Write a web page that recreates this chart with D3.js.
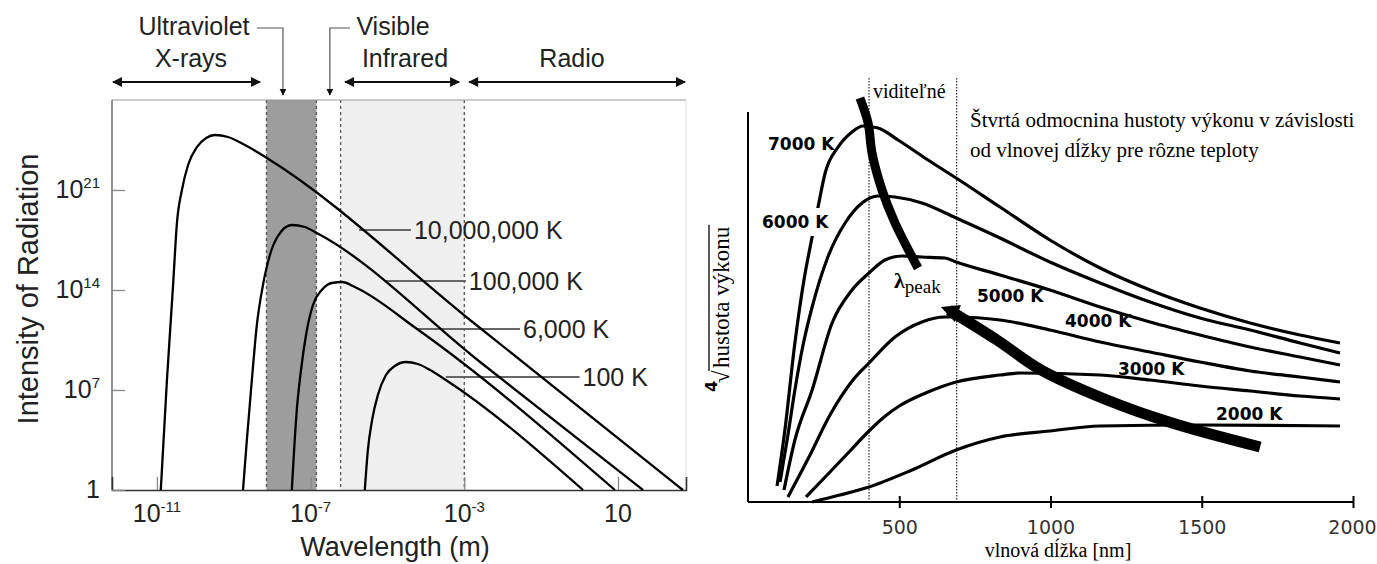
<!DOCTYPE html>
<html>
<head>
<meta charset="utf-8">
<script src="https://cdn.jsdelivr.net/npm/d3@7"></script>
<style>
body { margin: 0; background: #fff; }
svg { display: block; }
.sans { font-family: "Liberation Sans", Arial, sans-serif; }
.serif { font-family: "Liberation Serif", "Times New Roman", serif; }
.dv { font-family: "DejaVu Sans", Verdana, sans-serif; }
</style>
</head>
<body>
<svg width="1377" height="564"></svg>
<script>
// ---------- left chart: intensity vs wavelength (log10 of metres, log10 of intensity) ----------
const leftLabels = ['10,000,000 K', '100,000 K', '6,000 K', '100 K'];
const planck1e7 = [[-10.90,0],[-10.74,7.7],[-10.58,14.35],[-10.48,18.69],[-10.35,21.0],[-10.19,22.75],[-9.96,24.0],[-9.72,24.64],[-9.49,24.85],[-9.15,24.71],[-8.71,24.15],[-8.14,23.24],[-2.72,11.62],[2.69,0]];
const planck1e5 = [[-8.76,0],[-8.66,3.5],[-8.53,7.7],[-8.40,11.55],[-8.24,14.35],[-8.06,16.45],[-7.85,17.78],[-7.49,18.55],[-7.15,18.41],[-6.84,17.99],[-2.59,8.96],[1.65,0]];
const planck6e3 = [[-7.49,0],[-7.43,2.8],[-7.36,5.6],[-7.25,8.4],[-7.12,10.85],[-6.94,12.95],[-6.71,14.0],[-6.45,14.49],[-6.18,14.56],[-5.85,14.21],[-4.23,11.27],[0.92,0]];
const planck100 = [[-5.59,0],[-5.51,2.8],[-5.40,4.9],[-5.25,6.65],[-5.04,8.05],[-4.81,8.68],[-4.52,8.96],[-4.21,8.82],[-3.89,8.4],[-3.48,7.7],[0.09,0]];
const leftSeries = [planck1e7, planck1e5, planck6e3, planck100];
// where each label's leader line sits: [start exp, end exp, level exp]
const leaderStart = [-5.74, -5.04, -4.23, -3.48];
const leaderEnd = [-4.39, -2.96, -1.55, 0.0];
const leaderLevel = [18.2, 14.63, 11.27, 7.91];

const xTickExp = [-11, -7, -3, 1];
const xTickSup = ['-11', '-7', '-3', ''];
const yTickExp = [0, 7, 14, 21];
const yTickSup = ['', '7', '14', '21'];

const uvBand = [-8.15, -6.85];
const irBand = [-6.22, -3];
const spectrumNames = ['X-rays', 'Infrared', 'Radio'];
const spectrumSpan = [[-12.17, -8.29], [-6.13, -3.11], [-2.90, 2.77]];
const uvPoint = -7.72, visPoint = -6.50;

// ---------- right chart: fourth root of power density vs wavelength [nm] ----------
const rightLabels = ['7000 K', '6000 K', '5000 K', '4000 K', '3000 K', '2000 K'];
const r7000 = [[96,16],[122,72],[155,159],[185,222],[212,265],[231,294],[255,329],[298,355],[344,370],[380,376],[430,374],[496,362],[595,342],[688,324],[833,295],[998,262],[1164,234],[1329,212],[1494,194],[1660,179],[1825,167],[1957,159]];
const r6000 = [[106,20],[132,67],[155,112],[182,157],[212,195],[264,245],[321,279],[377,299],[430,306],[486,305],[575,299],[688,284],[833,264],[998,240],[1164,219],[1329,200],[1494,184],[1660,172],[1825,159],[1957,149]];
const r5000 = [[119,12],[155,62],[212,112],[278,179],[344,212],[400,229],[453,242],[509,246],[575,245],[651,244],[688,240],[833,227],[998,212],[1164,195],[1329,180],[1494,167],[1660,155],[1825,145],[1957,137]];
const r4000 = [[132,5],[205,47],[271,87],[347,122],[400,139],[486,165],[575,180],[651,185],[688,185],[833,182],[998,172],[1164,160],[1329,150],[1494,140],[1660,131],[1825,125],[1957,120]];
const r3000 = [[192,5],[271,30],[337,51],[400,71],[450,85],[500,96],[550,104],[595,110],[688,120],[833,127],[899,129],[1164,127],[1329,122],[1494,116],[1660,111],[1825,106],[1957,103]];
const r2000 = [[212,0],[304,7],[400,15],[542,32],[688,52],[833,65],[998,71],[1164,76],[1494,77],[1957,76]];
const rightSeries = [r7000, r6000, r5000, r4000, r3000, r2000];
const wienUpper = [[370,404],[397,379],[410,349],[443,312],[486,279],[562,234]];
const wienLower = [[664,192],[823,162],[969,132],[1187,102],[1402,79],[1693,55]];
const visibleNm = [400, 690];
const xTicksNm = [500, 1000, 1500, 2000];

const svg = d3.select('svg');
const p10 = e => Math.pow(10, e);

// markers
const defs = svg.append('defs');
defs.append('marker').attr('id', 'ah').attr('viewBox', '0 0 10 10')
  .attr('refX', 9).attr('refY', 5).attr('markerWidth', 12).attr('markerHeight', 10)
  .attr('markerUnits', 'userSpaceOnUse').attr('orient', 'auto-start-reverse')
  .append('path').attr('d', 'M0,0 L10,5 L0,10 Z').attr('fill', '#111');
defs.append('marker').attr('id', 'ahs').attr('viewBox', '0 0 10 10')
  .attr('refX', 9).attr('refY', 5).attr('markerWidth', 7).attr('markerHeight', 7)
  .attr('markerUnits', 'userSpaceOnUse').attr('orient', 'auto')
  .append('path').attr('d', 'M0,0 L10,5 L0,10 Z').attr('fill', '#111');

// ================= LEFT =================
const xL = d3.scaleLog().domain([p10(-12.17), p10(2.77)]).range([112, 686]);
const yL = d3.scaleLog().domain([1, p10(27.3)]).range([490, 100]);
const left = svg.append('g').attr('class', 'sans');

// bands
left.append('rect').attr('x', xL(p10(uvBand[0]))).attr('y', 100)
  .attr('width', xL(p10(uvBand[1])) - xL(p10(uvBand[0]))).attr('height', 390).attr('fill', '#9d9d9d');
left.append('rect').attr('x', xL(p10(irBand[0]))).attr('y', 100)
  .attr('width', xL(p10(irBand[1])) - xL(p10(irBand[0]))).attr('height', 390).attr('fill', '#efefef');
left.selectAll('line.band').data(uvBand.concat(irBand)).enter().append('line')
  .attr('x1', d => xL(p10(d))).attr('x2', d => xL(p10(d)))
  .attr('y1', 100).attr('y2', 490)
  .attr('stroke', '#555').attr('stroke-width', 1.3).attr('stroke-dasharray', '3,3');

// frame
left.append('line').attr('x1', 112).attr('x2', 686).attr('y1', 100).attr('y2', 100).attr('stroke', '#999');
left.append('line').attr('x1', 686).attr('x2', 686).attr('y1', 100).attr('y2', 490).attr('stroke', '#ddd');
left.append('line').attr('x1', 112).attr('x2', 112).attr('y1', 100).attr('y2', 490).attr('stroke', '#555').attr('stroke-width', 1.3);

// ticks via d3 axes
const axL = left.append('g').attr('transform', 'translate(0,490)')
  .call(d3.axisBottom(xL).tickValues(xTickExp.map(p10)).tickSize(-13).tickFormat(''));
axL.select('.domain').attr('stroke', '#333').attr('stroke-width', 1.6);
axL.selectAll('.tick line').attr('stroke', '#888').attr('stroke-width', 1.3);
const ayL = left.append('g').attr('transform', 'translate(112,0)')
  .call(d3.axisLeft(yL).tickValues(yTickExp.map(p10)).tickSize(-13).tickFormat(''));
ayL.select('.domain').remove();
ayL.selectAll('.tick line').attr('stroke', '#888').attr('stroke-width', 1.3);

// tick labels with superscripts
xTickExp.forEach((e, i) => {
  const t = left.append('text').attr('x', xL(p10(e))).attr('y', 522)
    .attr('text-anchor', 'middle').attr('font-size', 25).attr('fill', '#222');
  t.append('tspan').text('10');
  if (xTickSup[i]) t.append('tspan').attr('font-size', 15).attr('dy', -10).text(xTickSup[i]);
});
yTickExp.forEach((e, i) => {
  const t = left.append('text').attr('x', 100).attr('y', yL(p10(e)) + 8)
    .attr('text-anchor', 'end').attr('font-size', 25).attr('fill', '#222');
  t.append('tspan').text(e === 0 ? '1' : '10');
  if (yTickSup[i]) t.append('tspan').attr('font-size', 15).attr('dy', -10).text(yTickSup[i]);
});

left.append('text').attr('x', 395).attr('y', 556).attr('text-anchor', 'middle')
  .attr('font-size', 27).attr('fill', '#222').text('Wavelength (m)');
left.append('text').attr('transform', 'translate(38,289) rotate(-90)').attr('text-anchor', 'middle')
  .attr('font-size', 29).attr('fill', '#222').text('Intensity of Radiation');

// leaders and labels
leftLabels.forEach((lab, i) => {
  const y = yL(p10(leaderLevel[i]));
  left.append('line').attr('x1', xL(p10(leaderStart[i]))).attr('x2', xL(p10(leaderEnd[i])))
    .attr('y1', y).attr('y2', y).attr('stroke', '#666').attr('stroke-width', 1.8);
  left.append('text').attr('x', xL(p10(leaderEnd[i])) + 3).attr('y', y + 9)
    .attr('font-size', 25).attr('fill', '#222').text(lab);
});

// curves
const lineL = d3.line().x(d => xL(p10(d[0]))).y(d => yL(p10(d[1]))).curve(d3.curveMonotoneX);
left.selectAll('path.planck').data(leftSeries).enter().append('path')
  .attr('d', lineL).attr('fill', 'none').attr('stroke', '#000').attr('stroke-width', 2.3);

// spectrum arrows on top
spectrumNames.forEach((n, i) => {
  const a = xL(p10(spectrumSpan[i][0])), b = xL(p10(spectrumSpan[i][1]));
  left.append('line').attr('x1', a + 1).attr('x2', b - 1).attr('y1', 82).attr('y2', 82)
    .attr('stroke', '#111').attr('stroke-width', 2.2)
    .attr('marker-start', 'url(#ah)').attr('marker-end', 'url(#ah)');
});
left.append('text').attr('x', 191).attr('y', 67).attr('text-anchor', 'middle').attr('font-size', 25).attr('fill', '#222').text('X-rays');
left.append('text').attr('x', 405).attr('y', 67).attr('text-anchor', 'middle').attr('font-size', 25).attr('fill', '#222').text('Infrared');
left.append('text').attr('x', 572).attr('y', 67).attr('text-anchor', 'middle').attr('font-size', 25).attr('fill', '#222').text('Radio');
left.append('text').attr('x', 194).attr('y', 35).attr('text-anchor', 'middle').attr('font-size', 25).attr('fill', '#222').text('Ultraviolet');
left.append('text').attr('x', 393).attr('y', 35).attr('text-anchor', 'middle').attr('font-size', 25).attr('fill', '#222').text('Visible');
const ux = xL(p10(uvPoint)), vx = xL(p10(visPoint));
left.append('path').attr('d', `M257,28 H${ux} V95`).attr('fill', 'none').attr('stroke', '#555').attr('stroke-width', 1.2).attr('marker-end', 'url(#ahs)');
left.append('path').attr('d', `M350,28 H${vx} V95`).attr('fill', 'none').attr('stroke', '#555').attr('stroke-width', 1.2).attr('marker-end', 'url(#ahs)');

// ================= RIGHT =================
const xR = d3.scaleLinear().domain([0, 2000]).range([748, 1353]);
const yR = d3.scaleLinear().domain([0, 390]).range([502, 112]);
const right = svg.append('g');

// visible range dotted lines
right.selectAll('line.vis').data(visibleNm).enter().append('line')
  .attr('x1', d => xR(d)).attr('x2', d => xR(d)).attr('y1', 78).attr('y2', 502)
  .attr('stroke', '#000').attr('stroke-width', 1).attr('stroke-dasharray', '1.5,1.5');

// axes
const axR = right.append('g').attr('transform', 'translate(0,502)')
  .call(d3.axisBottom(xR).tickValues(xTicksNm).tickFormat(d3.format('d')).tickSize(6).tickPadding(13));
axR.select('.domain').attr('stroke', '#000').attr('stroke-width', 2).attr('d', `M${xR(0)},0H${xR(2000)}`);
axR.selectAll('.tick line').attr('y1', -6).attr('stroke-width', 2);
axR.selectAll('.tick text').attr('class', 'dv').attr('font-size', 19).attr('fill', '#333')
  .attr('dx', d => d === 2000 ? -1 : 0);
right.append('line').attr('x1', xR(0)).attr('x2', xR(0)).attr('y1', yR(390)).attr('y2', yR(0))
  .attr('stroke', '#000').attr('stroke-width', 2);

// curves
const lineR = d3.line().x(d => xR(d[0])).y(d => yR(d[1])).curve(d3.curveMonotoneX);
right.selectAll('path.temp').data(rightSeries).enter().append('path')
  .attr('d', lineR).attr('fill', 'none').attr('stroke', '#000').attr('stroke-width', 3.2);

// peak wavelength track
const lineW = d3.line().x(d => xR(d[0])).y(d => yR(d[1])).curve(d3.curveCatmullRom);
right.append('path').attr('d', lineW(wienUpper)).attr('fill', 'none').attr('stroke', '#000').attr('stroke-width', 9);
right.append('path').attr('d', lineW(wienLower)).attr('fill', 'none').attr('stroke', '#000').attr('stroke-width', 11);
const w0 = wienLower[0];
right.append('path')
  .attr('d', `M${xR(w0[0]) - 8},${yR(w0[1]) - 3} L${xR(w0[0]) + 12},${yR(w0[1]) - 5} L${xR(w0[0]) + 6},${yR(w0[1]) + 12} Z`)
  .attr('fill', '#000');

// temperature labels
const labPos = [[768,150],[762,228],[977,302],[1065,327],[1118,375],[1216,420]];
rightLabels.forEach((lab, i) => {
  const t = right.append('text').attr('class', 'dv').attr('x', labPos[i][0]).attr('y', labPos[i][1])
    .attr('font-size', 17).attr('font-weight', 'bold').attr('fill', '#000').text(lab);
  if (i === 1) {
    const bb = t.node().getBBox();
    right.insert('rect', function() { return t.node(); })
      .attr('x', bb.x - 3).attr('y', bb.y - 4).attr('width', bb.width + 6).attr('height', bb.height + 8).attr('fill', '#fff');
  }
});

// texts
const ser = right.append('g').attr('class', 'serif').attr('fill', '#000');
ser.append('text').attr('x', 873).attr('y', 98).attr('font-size', 20).text('viditeľné');
ser.append('text').attr('x', 970).attr('y', 127).attr('font-size', 21).text('Štvrtá odmocnina hustoty výkonu v závislosti');
ser.append('text').attr('x', 970).attr('y', 157).attr('font-size', 21).text('od vlnovej dĺžky pre rôzne teploty');
ser.append('text').attr('x', 1058).attr('y', 557).attr('text-anchor', 'middle').attr('font-size', 20).text('vlnová dĺžka [nm]');
const lp = ser.append('text').attr('x', 894).attr('y', 288);
lp.append('tspan').attr('font-size', 22).attr('font-weight', 'bold').text('λ');
lp.append('tspan').attr('font-size', 19).attr('dy', 5).text('peak');

// y label: fourth root of power density
const yLab = ser.append('g').attr('transform', 'translate(729,368) rotate(-90)');
const yt = yLab.append('text').attr('x', 0).attr('y', 0).attr('font-size', 23).text('hustota výkonu');
const tw = yt.node().getComputedTextLength();
yLab.append('text').attr('x', -15).attr('y', 0).attr('font-size', 23).text('√');
yLab.append('line').attr('x1', -3).attr('x2', tw + 2).attr('y1', -20).attr('y2', -20).attr('stroke', '#000').attr('stroke-width', 1.3);
yLab.append('text').attr('class', 'dv').attr('x', -24).attr('y', -12).attr('font-size', 16).attr('font-weight', 'bold').text('4');
</script>
</body>
</html>
